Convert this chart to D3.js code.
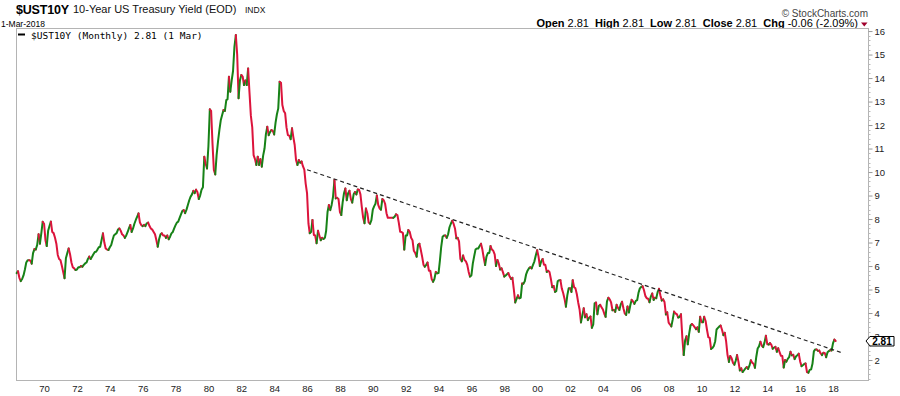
<!DOCTYPE html>
<html>
<head>
<meta charset="utf-8">
<script src="https://cdn.jsdelivr.net/npm/d3@7"></script>
<style>
  body { margin: 0; background: #fff; }
  svg { display: block; font-family: "Liberation Sans", Arial, sans-serif; }
</style>
</head>
<body>
<div id="chart"></div>
<script>
// monthly closes of the 10-year yield, first value is May 1968
var yields1968 = [5.70, 5.78, 5.50, 5.36, 5.45, 5.60, 5.85, 6.15];
var yields1970s = [
  6.25, 6.25, 6.24, 6.10, 6.55, 6.72, 6.70, 6.90, 7.35, 6.95, 7.40, 7.88,   // 69
  7.80, 7.10, 6.85, 7.50, 7.70, 7.89, 7.45, 7.40, 7.20, 6.95, 6.47, 6.30,   // 70
  6.25, 6.00, 5.75, 5.48, 6.33, 6.55, 6.75, 6.50, 6.15, 5.95, 5.90, 5.83,   // 71
  5.85, 5.95, 5.95, 6.00, 5.97, 6.05, 6.11, 6.15, 6.30, 6.40, 6.30, 6.40,   // 72
  6.50, 6.60, 6.61, 6.70, 6.80, 6.82, 7.10, 7.39, 7.00, 6.75, 6.70, 6.68,   // 73
  6.80, 6.90, 7.10, 7.30, 7.35, 7.40, 7.55, 7.60, 7.50, 7.35, 7.30, 7.20,   // 74
  7.30, 7.45, 7.60, 7.75, 7.45, 7.60, 7.80, 7.96, 8.10, 8.24, 7.85, 7.74,   // 75
  7.70, 7.75, 7.70, 7.82, 7.85, 7.70, 7.60, 7.55, 7.45, 7.35, 7.10, 6.82,   // 76
  7.15, 7.35, 7.39, 7.30, 7.30, 7.20, 7.30, 7.14, 7.25, 7.39, 7.45, 7.60,   // 77
  7.74, 7.85, 7.89, 8.05, 8.20, 8.35, 8.38, 8.25, 8.40, 8.60, 8.80, 8.95,   // 78
  9.05, 9.20, 9.10, 9.25, 9.15, 8.85, 9.00, 9.25, 9.35, 10.65, 10.35, 10.15 // 79
];
var yields1980s = [
  11.10, 12.67, 12.60, 11.20, 10.09, 9.90, 10.72, 11.30, 11.79, 12.20, 12.43, 12.64,
  12.60, 13.06, 13.10, 14.06, 13.42, 13.90, 14.30, 15.33, 15.83, 15.00, 13.14, 13.90,
  14.13, 14.06, 13.70, 13.90, 13.70, 14.41, 13.40, 12.40, 11.90, 10.72, 10.55, 10.30,
  10.65, 10.30, 10.55, 10.23, 10.70, 11.00, 11.60, 11.93, 11.57, 11.70, 11.79, 11.75,
  11.60, 12.10, 12.45, 12.71, 13.84, 13.80, 12.85, 12.60, 12.50, 11.90, 11.57, 11.55,
  11.40, 11.86, 11.50, 11.15, 10.51, 10.30, 10.51, 10.40, 10.45, 10.25, 10.10, 9.51,
  9.09, 7.80, 7.40, 7.45, 7.96, 7.32, 7.30, 6.97, 7.50, 7.30, 7.10, 7.20,
  7.15, 7.20, 7.50, 8.30, 8.60, 8.38, 8.60, 8.95, 9.66, 8.88, 8.90, 8.85,
  8.30, 8.17, 8.70, 9.10, 9.30, 8.80, 9.10, 9.20, 8.85, 8.70, 9.05, 9.15,
  9.05, 9.26, 9.25, 9.05, 8.52, 8.05, 7.82, 8.45, 8.25, 7.85, 7.80, 7.95
];
var yields1990s = [
  8.40, 8.55, 8.65, 9.00, 8.60, 8.45, 8.40, 8.85, 8.80, 8.65, 8.25, 8.05,
  8.05, 8.05, 8.05, 8.05, 8.10, 8.20, 8.17, 7.85, 7.46, 7.45, 7.40, 6.70,
  7.30, 7.30, 7.53, 7.45, 7.20, 7.10, 6.65, 6.55, 6.40, 6.90, 6.95, 6.70,
  6.40, 6.05, 5.97, 6.05, 6.15, 5.80, 5.80, 5.45, 5.33, 5.45, 5.75, 5.69,
  5.70, 6.25, 6.82, 7.25, 7.30, 7.30, 7.20, 7.35, 7.65, 7.80, 7.93, 7.80,
  7.60, 7.18, 7.20, 7.05, 6.30, 6.20, 6.45, 6.26, 6.20, 6.05, 5.75, 5.55,
  5.60, 6.10, 6.40, 6.70, 6.75, 6.75, 6.85, 6.95, 6.70, 6.35, 6.04, 6.40,
  6.55, 6.55, 6.85, 6.70, 6.65, 6.50, 6.00, 6.26, 6.10, 5.85, 5.90, 5.74,
  5.55, 5.60, 5.65, 5.70, 5.55, 5.45, 5.50, 5.00, 4.45, 4.60, 4.75, 4.63,
  4.65, 5.26, 5.25, 5.35, 5.65, 5.80, 5.90, 5.95, 5.90, 6.05, 6.20, 6.45
];
var yields2000s = [
  6.67, 6.40, 6.00, 6.20, 6.30, 6.05, 6.05, 5.75, 5.80, 5.75, 5.45, 5.10,
  5.15, 4.90, 4.93, 5.35, 5.40, 5.40, 5.05, 4.85, 4.60, 4.27, 4.75, 5.05,
  5.05, 4.90, 5.40, 5.10, 5.05, 4.80, 4.45, 4.15, 3.60, 3.90, 4.20, 3.82,
  3.95, 3.70, 3.80, 3.85, 3.37, 3.52, 4.41, 4.45, 3.95, 4.30, 4.35, 4.25,
  4.15, 3.97, 3.84, 4.50, 4.65, 4.58, 4.45, 4.12, 4.13, 4.05, 4.35, 4.22,
  4.13, 4.37, 4.48, 4.20, 3.98, 3.92, 4.28, 4.02, 4.33, 4.56, 4.49, 4.39,
  4.52, 4.55, 4.85, 5.05, 5.11, 5.14, 4.98, 4.73, 4.63, 4.61, 4.46, 4.70,
  4.83, 4.56, 4.65, 4.63, 4.89, 5.03, 4.76, 4.53, 4.58, 4.47, 3.94, 4.03,
  3.59, 3.51, 3.43, 3.73, 4.06, 3.98, 3.95, 3.81, 3.83, 3.95, 2.93, 2.21,
  2.84, 3.01, 2.67, 3.12, 3.47, 3.53, 3.48, 3.40, 3.31, 3.39, 3.20, 3.84
];
var yields2010s = [
  3.61, 3.61, 3.84, 3.66, 3.30, 2.97, 2.94, 2.47, 2.51, 2.60, 2.80, 3.30,
  3.37, 3.43, 3.47, 3.29, 3.06, 3.16, 2.80, 2.22, 1.92, 2.17, 2.07, 1.88,
  1.80, 1.98, 2.21, 1.92, 1.56, 1.65, 1.49, 1.56, 1.64, 1.70, 1.62, 1.76,
  1.99, 1.88, 1.85, 1.67, 2.13, 2.49, 2.58, 2.78, 2.61, 2.55, 2.75, 3.03,
  2.67, 2.66, 2.72, 2.65, 2.48, 2.53, 2.56, 2.35, 2.50, 2.34, 2.18, 2.17,
  1.68, 2.00, 1.93, 2.05, 2.12, 2.35, 2.20, 2.22, 2.04, 2.15, 2.21, 2.27,
  1.94, 1.74, 1.78, 1.83, 1.85, 1.49, 1.46, 1.58, 1.60, 1.84, 2.37, 2.45,
  2.45, 2.39, 2.40, 2.28, 2.21, 2.31, 2.30, 2.12, 2.33, 2.38, 2.42, 2.41,
  2.72, 2.87, 2.81
];

// dashed trend line, two anchor points
var trendDates = ["1986-01-01", "2018-08-15"];
var trendValues = [10.1, 2.29];

var yTicks = [2, 3, 4, 5, 6, 7, 8, 9, 10, 11, 12, 13, 14, 15, 16];
var xTickYears = [1970, 1972, 1974, 1976, 1978, 1980, 1982, 1984, 1986, 1988, 1990, 1992,
                  1994, 1996, 1998, 2000, 2002, 2004, 2006, 2008, 2010, 2012, 2014, 2016, 2018];

var allYields = yields1968.concat(yields1970s, yields1980s, yields1990s, yields2000s, yields2010s);
var firstMonth = new Date(1968, 4, 1);
var data = allYields.map(function(v, i) {
  return {date: d3.timeMonth.offset(firstMonth, i), value: v};
});

var W = 900, H = 396;
var margin = {top: 28, right: 32, bottom: 16, left: 16};

var svg = d3.select("#chart").append("svg")
  .attr("width", W)
  .attr("height", H);

var xScale = d3.scaleTime()
  .domain([new Date(1968, 3, 17), new Date(2020, 1, 17)])
  .range([margin.left, W - margin.right]);

var yScale = d3.scaleLinear()
  .domain([1.15, 16.13])
  .range([H - margin.bottom, margin.top]);

// header
svg.append("text")
  .attr("x", 16).attr("y", 13.5)
  .style("font-weight", "bold")
  .style("font-size", "12.5px")
  .style("letter-spacing", "-0.2px")
  .text("$UST10Y");

var sub = svg.append("text")
  .attr("x", 73).attr("y", 13)
  .style("font-size", "11px")
  .attr("fill", "#111");
sub.append("tspan").text("10-Year US Treasury Yield (EOD) ");
sub.append("tspan").attr("x", 245).style("font-size", "8.5px").text("INDX");

svg.append("text")
  .attr("x", 1).attr("y", 26.5)
  .style("font-size", "8.5px")
  .text("1-Mar-2018");

svg.append("text")
  .attr("x", 868).attr("y", 16.5)
  .attr("text-anchor", "end")
  .attr("fill", "#444")
  .style("font-size", "10px")
  .text("\u00A9 StockCharts.com");

var ohlc = svg.append("text")
  .attr("x", 858).attr("y", 27)
  .attr("text-anchor", "end")
  .style("font-size", "11px");
[["Open", " 2.81  "], ["High", " 2.81  "], ["Low", " 2.81  "], ["Close", " 2.81  "], ["Chg", " -0.06 (-2.09%)"]]
  .forEach(function(p) {
    ohlc.append("tspan").style("font-weight", "bold").text(p[0]);
    ohlc.append("tspan").attr("xml:space", "preserve").style("white-space", "pre").text(p[1]);
  });

svg.append("path")
  .attr("d", "M861,22.5L867.5,22.5L864.25,26.5Z")
  .attr("fill", "#a0002c");

// frame
svg.append("rect")
  .attr("x", margin.left + 0.5)
  .attr("y", margin.top + 0.5)
  .attr("width", W - margin.left - margin.right)
  .attr("height", H - margin.top - margin.bottom)
  .attr("fill", "none")
  .attr("stroke", "#b4b4b4");

// right axis: minor ticks then labelled ticks
var minor = d3.range(1.2, 16.1, 0.2).filter(function(v) { return Math.abs(v - Math.round(v)) > 0.01; });
svg.append("g")
  .attr("transform", "translate(" + (W - margin.right + 0.5) + ",0)")
  .selectAll("line")
  .data(minor)
  .enter().append("line")
  .attr("x1", 0).attr("x2", 2)
  .attr("y1", function(d) { return Math.round(yScale(d)) + 0.5; })
  .attr("y2", function(d) { return Math.round(yScale(d)) + 0.5; })
  .attr("stroke", "#bbb");

var yAxis = svg.append("g")
  .attr("transform", "translate(" + (W - margin.right + 0.5) + ",0)")
  .call(d3.axisRight(yScale).tickValues(yTicks).tickSize(4).tickPadding(2).tickFormat(d3.format("d")));
yAxis.select(".domain").remove();
yAxis.selectAll(".tick line").attr("stroke", "#999");
yAxis.selectAll(".tick text")
  .attr("fill", "#222")
  .style("font-family", "'Liberation Sans', Arial, sans-serif")
  .style("font-size", "9.5px");

// bottom axis, labels only
var xAxis = svg.append("g")
  .attr("transform", "translate(0," + (H - margin.bottom) + ")")
  .call(d3.axisBottom(xScale)
    .tickValues(xTickYears.map(function(y) { return new Date(y, 0, 1); }))
    .tickSize(0).tickPadding(5)
    .tickFormat(d3.timeFormat("%y")));
xAxis.select(".domain").remove();
xAxis.selectAll(".tick text")
  .attr("fill", "#222")
  .style("font-family", "'Liberation Sans', Arial, sans-serif")
  .style("font-size", "9.5px");

// price line split into rising (green) and falling (red) runs
var runs = [];
for (var i = 1; i < data.length; i++) {
  var up = data[i].value > data[i - 1].value ||
           (data[i].value === data[i - 1].value && runs.length && runs[runs.length - 1].up);
  var last = runs[runs.length - 1];
  if (last && last.up === up) last.pts.push(data[i]);
  else runs.push({up: up, pts: [data[i - 1], data[i]]});
}

var line = d3.line()
  .x(function(d) { return xScale(d.date); })
  .y(function(d) { return yScale(d.value); });

svg.append("g").selectAll("path")
  .data(runs)
  .enter().append("path")
  .attr("d", function(d) { return line(d.pts); })
  .attr("fill", "none")
  .attr("stroke", function(d) { return d.up ? "#178217" : "#dc143c"; })
  .attr("stroke-width", 2)
  .attr("stroke-linejoin", "round")
  .attr("stroke-linecap", "round");

// trend line
var trend = trendDates.map(function(d, i) { return {date: new Date(d), value: trendValues[i]}; });
svg.append("path")
  .attr("d", line(trend))
  .attr("fill", "none")
  .attr("stroke", "#222")
  .attr("stroke-width", 1.2)
  .attr("stroke-dasharray", "4,3");

// legend
svg.append("line")
  .attr("x1", 18).attr("x2", 25)
  .attr("y1", 34.5).attr("y2", 34.5)
  .attr("stroke", "#000")
  .attr("stroke-width", 2);
svg.append("text")
  .attr("x", 31).attr("y", 38.5)
  .style("font-family", "'DejaVu Sans Mono', monospace")
  .style("font-size", "9.5px")
  .text("$UST10Y (Monthly) 2.81 (1 Mar)");

// last value tag on the axis
var lastY = yScale(allYields[allYields.length - 1]);
svg.append("path")
  .attr("d", "M866," + lastY + "L870," + (lastY - 4.5) + "L894," + (lastY - 4.5) +
             "L894," + (lastY + 5) + "L870," + (lastY + 5) + "Z")
  .attr("fill", "#fff")
  .attr("stroke", "#000");
svg.append("text")
  .attr("x", 882).attr("y", lastY + 3.8)
  .attr("text-anchor", "middle")
  .style("font-weight", "bold")
  .style("font-size", "10px")
  .text("2.81");
</script>
</body>
</html>
